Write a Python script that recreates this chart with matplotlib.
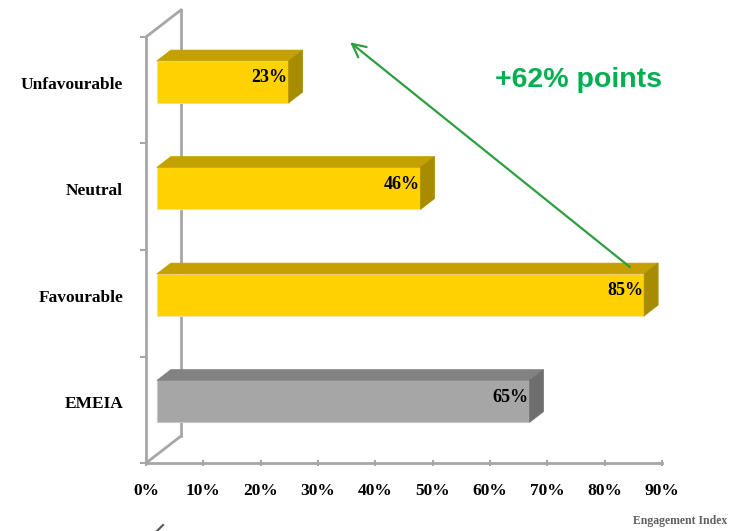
import matplotlib
matplotlib.use('Agg')
import matplotlib.pyplot as plt
from matplotlib.patches import Polygon
from matplotlib.lines import Line2D

#--------------------#
#DATA
categories = ['EMEIA', 'Favourable', 'Neutral', 'Unfavourable']
values = [65, 85, 46, 23]
x_ticks = [0, 10, 20, 30, 40, 50, 60, 70, 80, 90]
x_tick_labels = ['0%', '10%', '20%', '30%', '40%', '50%', '60%', '70%', '80%', '90%']

#--------------------#
#STYLE
front_cols = ['#A6A6A6', '#FFD200', '#FFD200', '#FFD200']
top_cols = ['#828282', '#C4A000', '#C4A000', '#C4A000']
side_cols = ['#6E6E6E', '#A88C00', '#A88C00', '#A88C00']
wall_col = '#A6A6A6'
serif = 'Liberation Serif'

# depth of the 3D box in data units (x in %, y in category slots)
DX, DY = 6.1, 0.2535
bar_h = 0.394
d0, d1 = 0.31, 0.71   # front / back depth fraction of the bars

fig = plt.figure(figsize=(7.38, 5.31), dpi=100)
ax = fig.add_axes([0, 0, 1, 1])
ax.set_xlim(-25.47, 103.26)
ax.set_ylim(-0.638, 4.347)

#--------------------#
#WALLS / AXES
ax.spines['top'].set_visible(False)
ax.spines['right'].set_visible(False)
for s in ['left', 'bottom']:
    ax.spines[s].set_position(('data', 0))
    ax.spines[s].set_color(wall_col)
    ax.spines[s].set_linewidth(2)
ax.spines['left'].set_bounds(0, 4)
ax.spines['bottom'].set_bounds(0, 90)

ax.plot([DX, DX], [DY, 4 + DY], color=wall_col, lw=2, zorder=1)
ax.plot([0, DX], [4, 4 + DY], color=wall_col, lw=2, zorder=1)
ax.plot([0, DX], [0, DY], color=wall_col, lw=2, zorder=1)

ax.set_xticks(x_ticks)
ax.set_xticklabels(x_tick_labels, family=serif, fontweight='bold', fontsize=12.5)
ax.tick_params(axis='x', direction='inout', length=5, width=1.5, color=wall_col, pad=12)
ax.set_yticks([0, 1, 2, 3, 4])
ax.set_yticklabels([])
ax.tick_params(axis='y', direction='out', length=4, width=1.5, color=wall_col)

#--------------------#
#3D BARS
for i, (cat, v) in enumerate(zip(categories, values)):
    c = i + 0.5
    x0, y0 = d0 * DX, c - bar_h / 2 + d0 * DY
    x1, y1 = v + d0 * DX, c + bar_h / 2 + d0 * DY
    ox, oy = (d1 - d0) * DX, (d1 - d0) * DY
    front = Polygon([(x0, y0), (x1, y0), (x1, y1), (x0, y1)], closed=True,
                    facecolor=front_cols[i], edgecolor='#F2E2A0' if i else '#C8C8C8', lw=0.8, zorder=3)
    top = Polygon([(x0, y1), (x1, y1), (x1 + ox, y1 + oy), (x0 + ox, y1 + oy)], closed=True,
                  facecolor=top_cols[i], edgecolor=top_cols[i], lw=0.5, zorder=3)
    side = Polygon([(x1, y0), (x1 + ox, y0 + oy), (x1 + ox, y1 + oy), (x1, y1)], closed=True,
                   facecolor=side_cols[i], edgecolor=side_cols[i], lw=0.5, zorder=3)
    for p in [front, top, side]:
        ax.add_patch(p)
    ax.text(x1 - 0.2, (y0 + y1) / 2 + 0.04, f'{v}%', ha='right', va='center',
            family=serif, fontweight='bold', fontsize=13, zorder=4)
    ax.text(-4.0, c + 0.05, cat, ha='right', va='center',
            family=serif, fontweight='bold', fontsize=12.5)

#--------------------#
#ANNOTATIONS
ax.annotate('', xy=(35.6, 3.95), xytext=(84.4, 1.84),
            arrowprops=dict(arrowstyle='->', color='#2E9E40', lw=1.6,
                            mutation_scale=24, shrinkA=0, shrinkB=0), zorder=5)
ax.text(60.9, 3.6, '+62% points', color='#00B050', fontsize=20.5, fontweight='bold',
        family='Liberation Sans', ha='left', va='center')
ax.text(0.985, 0.018, 'Engagement Index', transform=fig.transFigure, ha='right', va='center',
        family=serif, fontweight='bold', fontsize=8.5, color='#606060')
fig.lines.append(Line2D([157 / 738, 163 / 738], [0, 6 / 531], transform=fig.transFigure,
                        color='#555555', lw=1.5))

plt.savefig('out.png', dpi=100)
